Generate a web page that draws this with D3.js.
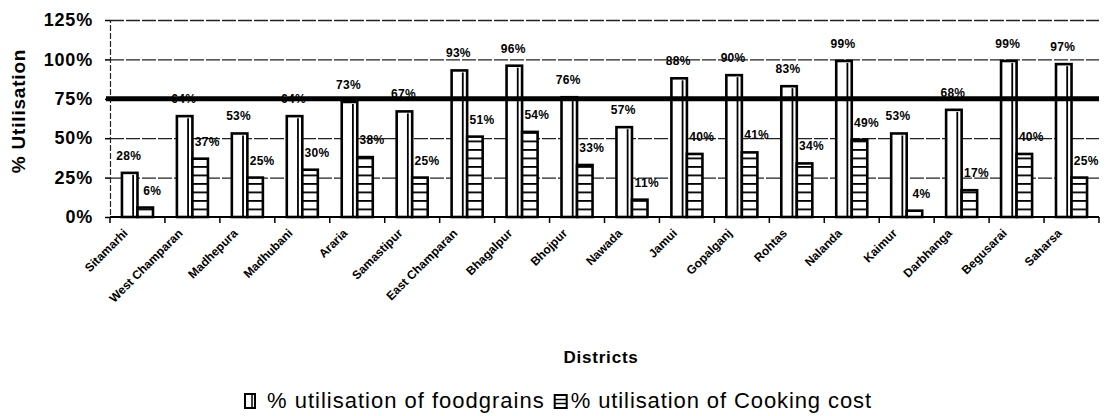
<!DOCTYPE html>
<html><head><meta charset="utf-8">
<script src="https://cdn.jsdelivr.net/npm/d3@7"></script>
<style>
html,body{margin:0;padding:0;background:#fff;}
svg{display:block;font-family:"Liberation Sans",Arial,sans-serif;}
</style></head>
<body><svg id="c" width="1110" height="416"></svg>
<script>
const categories = ["Sitamarhi","West Champaran","Madhepura","Madhubani","Araria","Samastipur","East Champaran","Bhagalpur","Bhojpur","Nawada","Jamui","Gopalganj","Rohtas","Nalanda","Kaimur","Darbhanga","Begusarai","Saharsa"];
const foodgrains = [28,64,53,64,73,67,93,96,76,57,88,90,83,99,53,68,99,97];
const cooking = [6,37,25,30,38,25,51,54,33,11,40,41,34,49,4,17,40,25];
const yTicks = [0,25,50,75,100,125];
const gridValues = [25,50,100,125];
const targetValue = 75;
const seriesNames = ["% utilisation of foodgrains","% utilisation of Cooking cost"];

const svg = d3.select("#c");
const L = 110, R = 1099, T = 20, B = 217;

const defs = svg.append("defs");
const pat = defs.append("pattern").attr("id","rungs").attr("patternUnits","userSpaceOnUse")
  .attr("width",8).attr("height",8.5).attr("y",B);
pat.append("rect").attr("width",8).attr("height",8.5).attr("fill","#fff");
pat.append("line").attr("x1",0).attr("x2",8).attr("y1",0.8).attr("y2",0.8).attr("stroke","#000").attr("stroke-width",2);

const x = d3.scaleBand().domain(categories).range([L,R]).paddingInner(0).paddingOuter(0);
const xs = d3.scaleBand().domain(["f","c"]).range([0,x.bandwidth()]).paddingInner(0).paddingOuter(0.77);
const y = d3.scaleLinear().domain([0,125]).range([B,T]);

const grid = svg.append("g").attr("transform",`translate(${L},0)`)
  .call(d3.axisLeft(y).tickValues(gridValues).tickSize(-(R-L)).tickFormat(""));
grid.select(".domain").remove();
grid.selectAll("line").attr("stroke","#222").attr("stroke-width",1.3).attr("stroke-dasharray","14 2");

const ya = svg.append("g").attr("transform",`translate(${L},0)`)
  .call(d3.axisLeft(y).tickValues(yTicks).tickFormat(d=>d+"%").tickSize(5).tickPadding(12));
ya.select(".domain").attr("stroke","#222").attr("stroke-width",1.2).attr("stroke-dasharray","6 2");
ya.selectAll("line").attr("stroke","#000").attr("stroke-width",1.5);
ya.selectAll("text").attr("font-size",18).attr("font-weight","bold").attr("fill","#000")
  .attr("font-family","Liberation Sans, Arial, sans-serif").attr("letter-spacing",0.8);

const g = svg.append("g");
categories.forEach((c,i)=>{
  const fx = x(c)+xs("f"), cx = x(c)+xs("c"), w = xs.bandwidth();
  g.append("rect").attr("x",fx).attr("y",y(foodgrains[i])).attr("width",w).attr("height",B-y(foodgrains[i]))
    .attr("fill","#fff").attr("stroke","#000").attr("stroke-width",2.6);
  g.append("line").attr("x1",fx+w*0.72).attr("x2",fx+w*0.72).attr("y1",y(foodgrains[i])+2).attr("y2",B)
    .attr("stroke","#000").attr("stroke-width",1.8);
  g.append("rect").attr("x",cx).attr("y",y(cooking[i])).attr("width",w).attr("height",B-y(cooking[i]))
    .attr("fill","url(#rungs)").attr("stroke","#000").attr("stroke-width",2.6);
});

svg.append("line").attr("x1",L-4).attr("x2",R).attr("y1",y(targetValue)).attr("y2",y(targetValue))
  .attr("stroke","#000").attr("stroke-width",5);

const lab = svg.append("g").attr("font-size",12).attr("font-weight","bold").attr("text-anchor","middle").attr("letter-spacing",0.3);
categories.forEach((c,i)=>{
  const w = xs.bandwidth();
  lab.append("text").attr("x",x(c)+xs("f")+w/2-1).attr("y",y(foodgrains[i])-13).text(foodgrains[i]+"%");
  lab.append("text").attr("x",x(c)+xs("c")+w/2+7).attr("y",y(cooking[i])-13).text(cooking[i]+"%");
});

svg.append("line").attr("x1",L).attr("x2",R).attr("y1",B).attr("y2",B).attr("stroke","#000").attr("stroke-width",2);
const bounds = categories.map(c=>x(c)).concat([R]);
svg.append("g").selectAll("line").data(bounds).join("line")
  .attr("x1",d=>d).attr("x2",d=>d).attr("y1",B).attr("y2",B+6).attr("stroke","#000").attr("stroke-width",1.5);

svg.append("g").selectAll("text").data(categories).join("text")
  .attr("x",c=>x(c)+x.bandwidth()/2-9).attr("y",234)
  .attr("transform",c=>`rotate(-45 ${x(c)+x.bandwidth()/2-9} 234)`)
  .attr("text-anchor","end").attr("font-size",12).attr("font-weight","bold")
  .text(c=>c);

svg.append("text").attr("x",601).attr("y",363).attr("text-anchor","middle").attr("font-size",17)
  .attr("font-weight","bold").attr("letter-spacing",0.8).text("Districts");
svg.append("text").attr("transform","translate(25,111) rotate(-90)").attr("text-anchor","middle")
  .attr("font-size",19).attr("font-weight","bold").attr("letter-spacing",0.8).text("% Utilisation");

const lg = svg.append("g");
let lx = 245; const ly = 393;
lg.append("rect").attr("x",lx).attr("y",ly+1).attr("width",10).attr("height",14).attr("fill","#fff").attr("stroke","#000").attr("stroke-width",2);
lg.append("line").attr("x1",lx+7).attr("x2",lx+7).attr("y1",ly+1).attr("y2",ly+15).attr("stroke","#000").attr("stroke-width",1.5);
const t1 = lg.append("text").attr("x",lx+22).attr("y",ly+15).attr("font-size",22).attr("letter-spacing",1.0).text(seriesNames[0]);
lx = lx + 22 + t1.node().getComputedTextLength() + 10;
lg.append("rect").attr("x",lx).attr("y",ly+2).attr("width",12).attr("height",13).attr("fill","#fff").attr("stroke","#000").attr("stroke-width",2);
lg.append("line").attr("x1",lx).attr("x2",lx+12).attr("y1",ly+6.5).attr("y2",ly+6.5).attr("stroke","#000").attr("stroke-width",1.5);
lg.append("line").attr("x1",lx).attr("x2",lx+12).attr("y1",ly+10.5).attr("y2",ly+10.5).attr("stroke","#000").attr("stroke-width",1.5);
lg.append("text").attr("x",lx+16).attr("y",ly+15).attr("font-size",22).attr("letter-spacing",0.9).text(seriesNames[1]);
</script></body></html>
